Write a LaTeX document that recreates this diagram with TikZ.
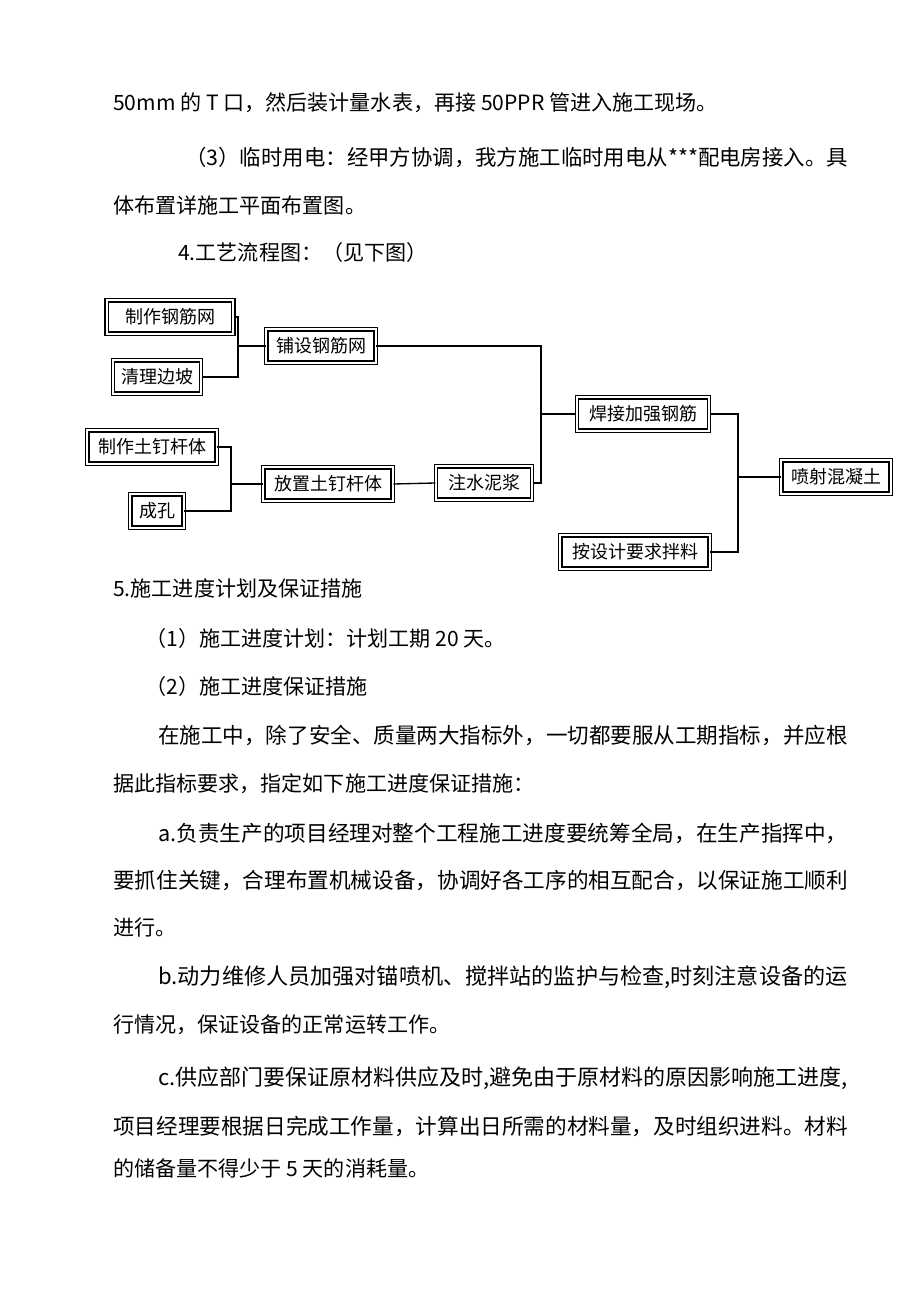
\documentclass[tikz,border=0pt]{standalone}
\usepackage{fontspec}
\setmainfont{Noto Sans CJK SC}
\begin{document}
\begin{tikzpicture}[x=0.75pt,y=-0.75pt,
  txt/.style={anchor=west,inner sep=0pt,font=\fontsize{15.8pt}{16pt}\selectfont},
  box/.style={draw,double,double distance=1.5pt,line width=1.1pt,inner sep=1.5pt,minimum height=25pt,font=\fontsize{13.5pt}{14pt}\selectfont},
  ln/.style={line width=1pt}]
\useasboundingbox (0,0) rectangle (920,1302);
\node[txt] (l1) at (113,103) {50mm 的 T 口，然后装计量水表，再接 50PPR 管进入施工现场。};
\node[txt] (l2) at (185,157) {\resizebox{497pt}{!}{（3）临时用电：经甲方协调，我方施工临时用电从***配电房接入。具}};
\node[txt] (l3) at (113,205) {体布置详施工平面布置图。};
\node[txt] (l4) at (178,252) {4.工艺流程图：（见下图）};
\node[txt] (l5) at (113,588) {5.施工进度计划及保证措施};
\node[txt] (l6) at (145,638) {（1）施工进度计划：计划工期 20 天。};
\node[txt] (l7) at (145,686) {（2）施工进度保证措施};
\node[txt] (l8) at (158,735) {\resizebox{517pt}{!}{在施工中，除了安全、质量两大指标外，一切都要服从工期指标，并应根}};
\node[txt] (l9) at (113,784) {据此指标要求，指定如下施工进度保证措施：};
\node[txt] (l10) at (158,833) {\resizebox{517pt}{!}{a.负责生产的项目经理对整个工程施工进度要统筹全局，在生产指挥中，}};
\node[txt] (l11) at (113,880) {\resizebox{551pt}{!}{要抓住关键，合理布置机械设备，协调好各工序的相互配合，以保证施工顺利}};
\node[txt] (l12) at (113,928) {进行。};
\node[txt] (l13) at (158,977) {\resizebox{517pt}{!}{b.动力维修人员加强对锚喷机、搅拌站的监护与检查,时刻注意设备的运}};
\node[txt] (l14) at (113,1025) {行情况，保证设备的正常运转工作。};
\node[txt] (l15) at (158,1078) {\resizebox{517pt}{!}{c.供应部门要保证原材料供应及时,避免由于原材料的原因影响施工进度,}};
\node[txt] (l16) at (113,1126) {\resizebox{551pt}{!}{项目经理要根据日完成工作量，计算出日所需的材料量，及时组织进料。材料}};
\node[txt] (l17) at (113,1168) {的储备量不得少于 5 天的消耗量。};

\node[box,minimum width=95pt] (a) at (170,317) {制作钢筋网};
\node[box,minimum width=66pt] (b) at (157,377) {清理边坡};
\node[box,minimum width=82pt] (c) at (321,346) {铺设钢筋网};
\node[box,minimum width=97pt] (d) at (152,447) {制作土钉杆体};
\node[box,minimum width=40pt] (e) at (157,511) {成孔};
\node[box,minimum width=97pt] (f) at (328,484) {放置土钉杆体};
\node[box,minimum width=72pt] (g) at (484,483) {注水泥浆};
\node[box,minimum width=99pt] (h) at (643,414) {焊接加强钢筋};
\node[box,minimum width=82pt] (i) at (836,477) {喷射混凝土};
\node[box,minimum width=112pt] (j) at (635,552) {按设计要求拌料};

\coordinate (ja) at (238,346);
\coordinate (jd) at (231,484);
\coordinate (jc) at (541,414);
\coordinate (jh) at (738,477);
\draw[ln] (a.east) -| (ja) |- (b.east);
\draw[ln] (ja) -- (c.west);
\draw[ln] (d.east) -| (jd) |- (e.east);
\draw[ln] (jd) -- (f.west);
\draw[ln] (f.east) -- (g.west);
\draw[ln] (c.east) -| (jc) |- (g.east);
\draw[ln] (jc) -- (h.west);
\draw[ln] (h.east) -| (jh) |- (j.east);
\draw[ln] (jh) -- (i.west);
\end{tikzpicture}
\end{document}
